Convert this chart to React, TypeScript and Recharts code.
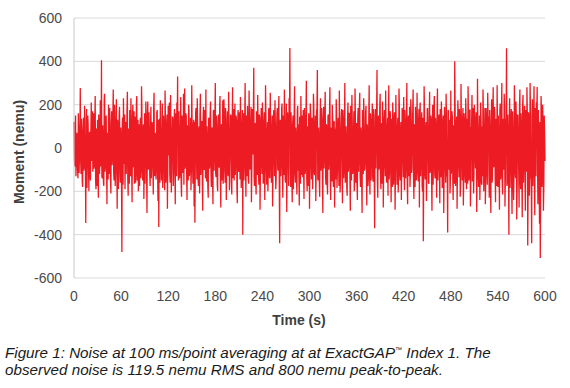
import React from 'react';
import { LineChart, Line, XAxis, YAxis, CartesianGrid } from 'recharts';

// moment readings at whole seconds, 0 s .. 600 s (nemu)
const momentWhole: number[] = [
  120, -85, 150, -60, 35, -140, 90, -30, 277, -120, 60, -180, 140, 25, -95, -346, 180, -40, 110, -200,
  75, -150, 210, -20, -110, 160, -70, 240, -190, 45, 130, -230, 95, -60, 185, 405, -140, 20, -175, 250,
  -80, 150, -260, 60, 200, -120, 35, -210, 170, -45, 270, -150, 80, -100, 225, -280, 105, -30, 190, -160,
  55, -480, 140, 230, -75, -190, 120, -40, 260, -220, 15, 175, -130, 85, -250, 200, -10, -165, 145, -95,
  240, -60, -200, 110, 30, -140, 285, -110, 70, -235, 160, -20, 120, -300, 215, -85, 50, -175, 190, -55,
  100, -215, 255, -130, 40, -90, 175, -245, -365, 135, 220, -70, 10, -185, 150, -40, 265, -160, 90, -280,
  195, -35, -120, 245, -205, 70, 130, -95, 180, -260, 25, 210, 330, -150, 60, -110, 235, -225, 115, -15,
  -170, 275, -80, 145, -240, 55, 200, -130, 20, -195, 290, -60, 105, -270, -345, 165, -25, 230, -140, 80,
  -210, 250, -45, 125, -290, 190, -100, 60, 270, -155, 35, -230, 140, -75, 215, -180, 95, -260, 175, -20,
  300, -135, 65, -200, 155, -90, 240, -275, 110, 15, -165, 225, -50, 185, -240, 70, -120, 260, -195, 40,
  145, -215, 280, -70, -150, 205, -35, 120, -255, 175, -110, 50, 235, -185, 90, -400, 160, -60, 300, -225,
  30, 195, -140, 265, -90, 75, -250, 180, -30, 370, -175, 110, -215, 40, 245, -120, 155, -285, 85, -55,
  210, -165, 120, -240, 290, -80, 25, -200, 175, -130, 255, -40, 95, -270, 140, -15, 220, -190, 60, 185,
  -105, 240, -440, 130, -60, 205, -230, 45, 270, -145, 100, -295, 165, -20, 230, 462, -180, 75, -250, 150,
  -85, 285, -160, 35, -215, 195, 110, -265, 60, 240, -125, -40, 175, -235, 130, -90, 310, -200, 20, 160,
  -280, 205, -55, 140, -190, 250, -110, 85, -245, 175, 360, -150, 45, -225, 230, -75, 120, -300, 190, -30,
  260, -170, 95, -215, 155, -60, 280, -240, 15, 200, -130, 125, -275, 70, 225, -185, 105, -45, 265, -205,
  55, 180, -255, 135, -95, 300, -150, 25, -220, 210, -70, 160, -290, 90, 245, -120, 40, -200, 275, -160,
  115, -240, 185, -35, 255, -180, 60, -300, 140, 230, -105, -50, 195, -265, 80, -140, 290, -215, 125, -20,
  205, -155, 30, -370, 180, 95, 360, -230, 150, -80, 250, -190, 45, 215, -275, 120, -60, 265, -145, 85,
  -220, 290, -100, 160, -250, 35, 210, -170, 130, -285, 245, -40, 90, -205, 275, -125, 55, -240, 185, -15,
  235, -195, 110, -70, 300, -260, 150, -30, -180, 225, -115, 65, 270, -235, 20, 190, -150, 255, -90, 130,
  -275, 210, -45, 165, -200, -430, 285, -120, 75, -245, 180, 40, -165, 260, -95, 135, -290, 200, -25, 240,
  -140, 95, -230, 275, -70, 155, -255, 20, 215, -185, 120, -300, 190, -55, 250, -130, -390, 170, 85, -210,
  265, -100, 140, -240, 35, 400, -175, 105, -280, 220, -60, 180, -225, 295, -20, 125, -265, 160, -115, 230,
  -190, 60, 285, -150, 175, -270, 90, 245, -80, -210, 200, -35, 130, -295, 320, -125, 50, -240, 210, -160,
  100, 270, -200, 30, -260, 185, -95, 255, 145, -230, 60, -300, 225, -140, 280, -75, 165, -250, 115, 290,
  -180, 40, -285, 205, -120, 300, -215, 95, 250, -270, 135, 460, -160, 75, -400, 230, -65, 180, -305, 120,
  -240, 290, -110, 215, -330, 155, 35, -275, 270, -190, 85, -320, 245, -50, 195, -290, 130, 280, -450, 165,
  -220, 300, -140, -440, 225, -100, 285, -310, 90, 210, 282, -260, 60, -350, -508, 240, -180, 200, -290, 150,
  -60,
];

// moment readings at half seconds, 0.5 s .. 599.5 s (nemu)
const momentHalf: number[] = [
  -40, 110, -130, 70, -90, 160, -115, 45, -60, 135, -155, 80, -105, 195, -70, 120, -185, 150, -95, 60,
  -125, 85, -60, 170, 140, -95, 125, -150, 90, -175, 40, 155, -120, 220, -85, -130, 105, -160, 225, -110,
  135, -95, 70, -145, -60, 185, -150, 115, -80, 140, -110, 200, -175, 160, -65, 130, -190, 150, -125, 95,
  -140, 115, -170, 60, 155, 110, -120, 175, -140, 90, -165, 130, 230, -115, 145, -90, 170, 120, -160, 205,
  -150, 130, 95, -175, 140, -95, 185, -150, 110, -70, -165, 215, -120, 150, -100, 165, -130, 105, -140, 120,
  -95, 185, -120, 70, -145, 165, -110, 130, 110, -160, 95, -150, 205, -135, 90, -195, 125, -105, 155, -70,
  100, 210, -160, 85, -115, 145, -175, 120, -90, 160, -130, 110, -85, 170, -140, 95, -160, 150, -115, 250,
  130, -95, 160, -125, 105, -150, 175, -85, 140, -110, 95, -165, 130, 120, -90, 185, -145, 110, -175, 100,
  150, -125, 110, -160, 140, -95, 175, -140, -120, 100, -180, 135, -95, 160, -115, 90, -145, 170, -105, 130,
  -120, 150, -170, 110, -85, 185, -135, 95, -150, 220, -105, 125, -160, 140, -90, 170, -130, 115, -75, 155,
  -160, 105, -140, 180, 95, -125, 150, -175, 115, -90, 165, -145, 120, -110, 175, 105, -150, 135, -95, 150,
  -130, 110, -165, 145, -100, 190, -120, 85, 150, -140, 115, -155, 170, -125, 95, -170, 140, -110, 185, -120,
  100, -150, 165, -95, 140, -170, 120, -105, 185, -140, 90, -160, 150, -115, 175, -130, 105, -145, 160, -95,
  135, -170, 115, -130, 180, -100, 150, -125, 95, -160, 205, -115, 140, -175, 120, -85, 165, -140, 110, -190,
  160, -120, 95, -150, 175, -105, -130, 145, -165, 110, 150, -135, -90, 185, -120, 155, -140, 100, -175, 130,
  -100, 165, -145, 120, -85, 190, -125, 150, -110, 175, -140, 95, -160, 130, -105, 185, -150, 115, -95, 160,
  -135, 110, -170, 145, -100, 170, -125, 95, -155, 135, -180, 120, 90, -145, 165, -110, 140, -175, 105, -125,
  150, -95, 175, -140, 120, -160, 100, -185, 135, -110, 160, -130, 195, -150, 115, -90, 170, -145, 125, -105,
  -165, 140, -110, 185, -130, 95, -155, 175, -120, 150, -90, 165, -140, 110, -175, 130, -100, 160, -150, 115,
  -135, 180, -120, 145, -95, 170, -155, 125, -100, 190, -140, 115, -165, 135, -85, 175, -130, 105, -160, 140,
  115, -145, 170, -110, 135, -180, 150, -95, 165, -125, 100, -170, 140, -115, 185, -150, 120, -90, 160, -135,
  -110, 175, -140, 125, -160, 105, -130, 190, -115, 150, -95, 170, -135, 110, -180, 145, -120, 95, -155, 180,
  165, -130, 110, -175, 140, -100, 160, -145, 120, -90, 185, -160, 130, -115, 150, -135, 105, -170, 175, -120,
  140, -105, 165, -150, 115, -90, 180, -135, 125, -170, 150, -110, 95, -160, 140, -125, 175, -100, 130, -145,
  -120, 170, -140, 105, -165, 190, -115, 145, -95, 160, -135, 120, -175, 110, -150, 185, -125, 100, -160, 140,
  135, -165, 120, -110, 175, -140, 100, -155, 185, -125, 145, -95, 165, -130, 110, -180, 150, -115, 125, -170,
  -130, 160, -100, 185, -145, 120, -170, 140, -105, 175, -135, 115, -160, 150, -90, 190, -125, 135, -175, 105,
  150, -120, 175, -145, 110, -165, 135, -100, 190, -140, 120, -175, 155, -110, 140, -185, 125, -150, 170, -130,
  -115, 185, -140, 125, -170, 150, -105, 180, -135, 160, -120, 195, -160, 130, -145, 175, -110, 140, -185, 120,
  -150, 170, -125, 145, -175, 110, -160, 185, -130, 155, -100, 175, -145, 120, -190, 160, -135, 105, -170, 80,
];

const timeTicks = [0, 60, 120, 180, 240, 300, 360, 420, 480, 540, 600];
const momentTicks = [-600, -400, -200, 0, 200, 400, 600];

const data: { t: number; m: number }[] = [];
momentWhole.forEach((m, i) => {
  data.push({ t: i, m });
  if (i < momentHalf.length) data.push({ t: i + 0.5, m: momentHalf[i] });
});

const font = '"Liberation Sans", Arial, sans-serif';
const tickStyle = { fill: '#4a4a4a', fontSize: 14, fontFamily: font };

export default function App() {
  return (
    <div style={{ position: 'absolute', left: 0, top: 0, width: 570, height: 388, background: '#fff' }}>
      <LineChart width={570} height={330} data={data} margin={{ top: 18, right: 25, left: 0, bottom: 22 }}>
        <CartesianGrid vertical={false} stroke="#d9d9d9" />
        <XAxis
          dataKey="t"
          type="number"
          domain={[0, 600]}
          ticks={timeTicks}
          tick={tickStyle}
          tickLine={false}
          axisLine={false}
          tickMargin={7}
          height={30}
          interval={0}
        />
        <YAxis
          type="number"
          domain={[-600, 600]}
          ticks={momentTicks}
          tick={tickStyle}
          tickLine={false}
          axisLine={{ stroke: '#c8c8c8' }}
          tickMargin={6}
          width={74}
          interval={0}
        />
        <Line
          type="linear"
          dataKey="m"
          stroke="#ed1c24"
          strokeWidth={1.3}
          dot={false}
          isAnimationActive={false}
        />
      </LineChart>
      <div
        style={{
          position: 'absolute', left: 299, top: 312, transform: 'translateX(-50%)',
          fontFamily: font, fontWeight: 'bold', fontSize: 14, color: '#404040', whiteSpace: 'nowrap',
        }}
      >
        Time (s)
      </div>
      <div
        style={{
          position: 'absolute', left: 19, top: 152, transform: 'translate(-50%, -50%) rotate(-90deg)',
          fontFamily: font, fontWeight: 'bold', fontSize: 14, color: '#404040', whiteSpace: 'nowrap',
        }}
      >
        Moment (nemu)
      </div>
      <div
        style={{
          position: 'absolute', left: 5, top: 345, width: 565,
          fontFamily: font, fontStyle: 'italic', fontSize: 15.2, lineHeight: '16.5px', color: '#1a1a1a',
          whiteSpace: 'nowrap',
        }}
      >
        Figure 1: Noise at 100 ms/point averaging at at ExactGAP
        <sup style={{ fontSize: 7, verticalAlign: 'top', lineHeight: '10px' }}>™</sup> Index 1. The
        <br />
        observed noise is 119.5 nemu RMS and 800 nemu peak-to-peak.
      </div>
    </div>
  );
}
